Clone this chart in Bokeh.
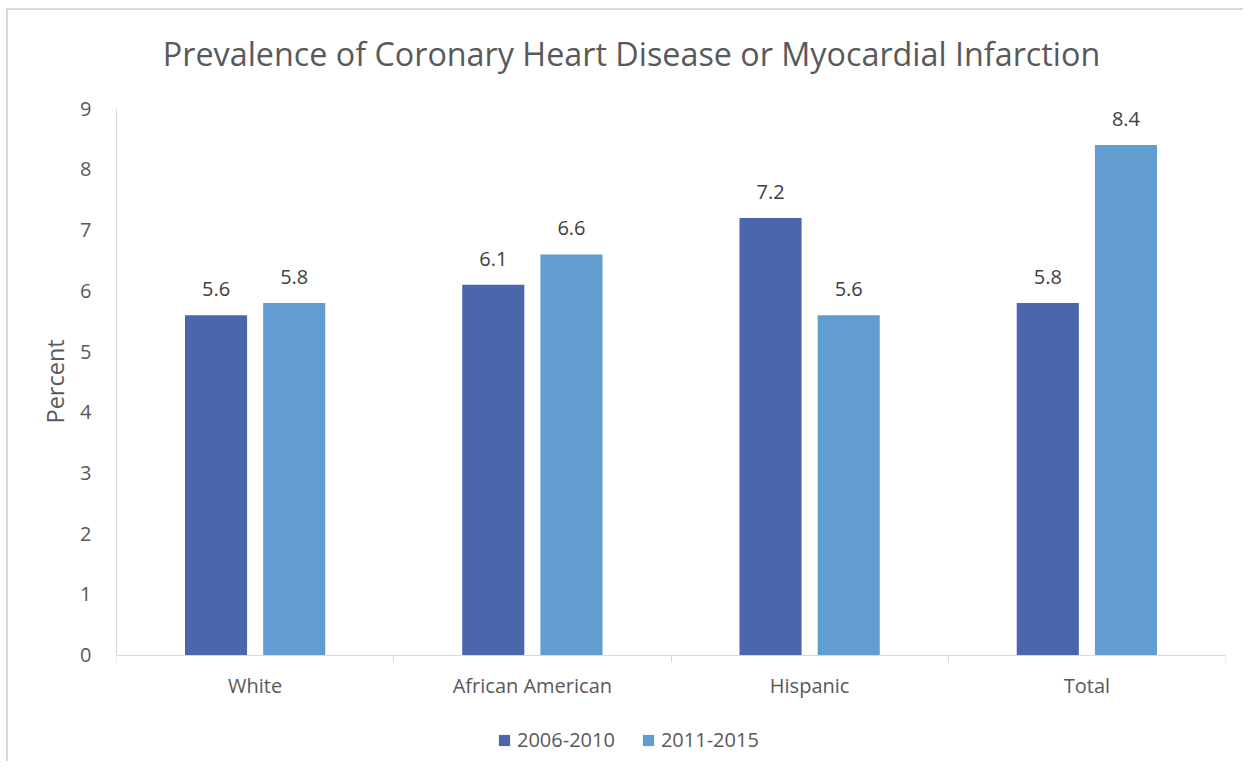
import numpy as np
from bokeh.plotting import figure
from bokeh.models import (ColumnDataSource, Range1d, FixedTicker, LabelSet, Label,
                          Legend, LegendItem, Title)
from bokeh.core.properties import value
from bokeh.embed import file_html
from bokeh.resources import INLINE

# ---- data ----
categories = ["White", "African American", "Hispanic", "Total"]
series_names = ["2006-2010", "2011-2015"]
values_2006_2010 = [5.6, 6.1, 7.2, 5.8]
values_2011_2015 = [5.8, 6.6, 5.6, 8.4]
y_ticks = [0, 1, 2, 3, 4, 5, 6, 7, 8, 9]
title_text = "Prevalence of Coronary Heart Disease or Myocardial Infarction"
y_label = "Percent"

# ---- style ----
FONT = "Open Sans"
C1 = "#4A66AC"
C2 = "#629DD1"
TXT = "#595959"
AX = "#D9D9D9"
offset = 0.141
bar_w = 0.224
FS = "20px"
Y_MIN = -1.75   # frame extends below the axis to hold the legend
Y_MAX = 10.6    # ...and above it to hold the title

centers = np.arange(len(categories)) + 0.5
src1 = ColumnDataSource(dict(x=centers - offset, top=values_2006_2010,
                             lab=[f"{v:.1f}" for v in values_2006_2010]))
src2 = ColumnDataSource(dict(x=centers + offset, top=values_2011_2015,
                             lab=[f"{v:.1f}" for v in values_2011_2015]))

p = figure(width=1237, height=753, output_backend="svg", toolbar_location=None,
           x_range=Range1d(0, len(categories)), y_range=Range1d(Y_MIN, Y_MAX),
           min_border_left=108, min_border_right=20, min_border_top=1,
           min_border_bottom=2)
p.styles = {"border-left": "2px solid #D9D9D9", "border-top": "2px solid #D9D9D9",
            "margin-left": "6px", "margin-top": "8px"}
p.outline_line_color = None
p.xgrid.grid_line_color = None
p.ygrid.grid_line_color = None
p.background_fill_color = "white"
p.border_fill_color = "white"

r1 = p.vbar(x="x", top="top", width=bar_w, source=src1, color=C1, line_color=None)
r2 = p.vbar(x="x", top="top", width=bar_w, source=src2, color=C2, line_color=None)

# chart title
p.add_layout(Label(x=len(categories) / 2, y=max(y_ticks), x_offset=-39.5, y_offset=56,
                   text=title_text, text_align="center", text_baseline="middle",
                   text_font=FONT, text_font_size="32.3px", text_color=TXT))

# x axis: labels at category centers, ticks at boundaries, placed at y = 0
p.xaxis.fixed_location = 0
p.xaxis.ticker = FixedTicker(ticks=list(centers),
                             minor_ticks=list(range(len(categories) + 1)))
p.xaxis.major_label_overrides = {float(c): n for c, n in zip(centers, categories)}
p.xaxis.major_tick_line_color = None
p.xaxis.minor_tick_line_color = AX
p.xaxis.minor_tick_in = 0
p.xaxis.minor_tick_out = 7
p.xaxis.axis_line_color = AX
p.xaxis.major_label_text_font = FONT
p.xaxis.major_label_text_font_size = FS
p.xaxis.major_label_text_color = TXT
p.xaxis.major_label_standoff = 10

# y axis
p.yaxis.bounds = (0, 9)
p.yaxis.ticker = FixedTicker(ticks=y_ticks)
p.yaxis.major_tick_line_color = None
p.yaxis.minor_tick_line_color = None
p.yaxis.axis_line_color = AX
p.yaxis.major_label_text_font = FONT
p.yaxis.major_label_text_font_size = FS
p.yaxis.major_label_text_color = TXT
p.yaxis.major_label_standoff = 19

# y axis title, centred on the 0..9 span
ytitle = Title(text=y_label, align="left", offset=338, standoff=14,
               text_font=FONT, text_font_size="23.5px", text_font_style="normal",
               text_color=TXT)
p.add_layout(ytitle, "left")

# data labels
for s in (src1, src2):
    p.add_layout(LabelSet(x="x", y="top", text="lab", source=s, y_offset=26,
                          text_align="center", text_baseline="middle",
                          text_font=value(FONT), text_font_size=value(FS),
                          text_color="#404040"))

legend = Legend(items=[LegendItem(label=series_names[0], renderers=[r1]),
                       LegendItem(label=series_names[1], renderers=[r2])],
                orientation="horizontal", location=(381, 8),
                glyph_width=14, glyph_height=14, label_standoff=6, spacing=26,
                padding=0, margin=0, border_line_color=None,
                background_fill_alpha=0,
                label_text_font=FONT, label_text_font_size=FS,
                label_text_color=TXT)
p.add_layout(legend, "center")

open("out.html", "w").write(file_html(p, INLINE))
